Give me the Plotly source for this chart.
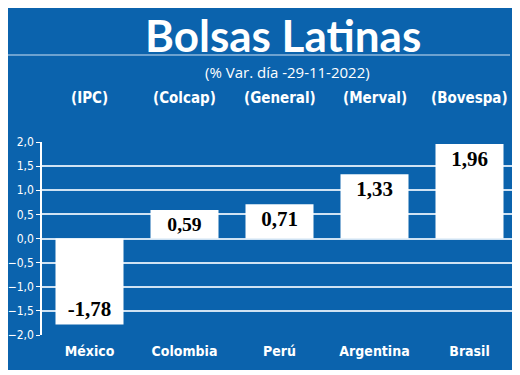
import plotly.graph_objects as go

countries = ["México", "Colombia", "Perú", "Argentina", "Brasil"]
indices = ["(IPC)", "(Colcap)", "(General)", "(Merval)", "(Bovespa)"]
values = [-1.78, 0.59, 0.71, 1.33, 1.96]
value_labels = ["-1,78", "0,59", "0,71", "1,33", "1,96"]
y_ticks = [2.0, 1.5, 1.0, 0.5, 0.0, -0.5, -1.0, -1.5, -2.0]

BLUE = "#0b63ad"
NARROW = "DejaVu Sans Condensed, Liberation Sans Narrow, sans-serif"

OFF = 8  # page body margin
FW, FH = 520 - OFF, 375 - OFF
# plot area in page pixels: x 42..513, y 142..335
L, R, T, B = 42, 513, 142, 335
W, H = R - L, B - T
def px(x): return (x - L) / W
def py(y): return (B - y) / H

fig = go.Figure()
fig.add_trace(go.Bar(
    x=countries, y=values,
    marker=dict(color="white", line=dict(width=0)),
    width=0.716,
    text=value_labels, textposition="inside", insidetextanchor="end",
    textfont=dict(family="Liberation Serif, DejaVu Serif, serif", size=21, color="black", weight="bold"),
    textangle=0, cliponaxis=False,
))

shapes = [
    dict(type="rect", xref="paper", yref="paper", x0=px(6), x1=px(513), y0=py(370), y1=py(5),
         fillcolor=BLUE, line=dict(width=0), layer="below"),
    dict(type="line", xref="paper", yref="paper", x0=px(6), x1=px(510), y0=py(55), y1=py(55),
         line=dict(color="#cfe2f3", width=1.2), layer="below"),
]

annotations = [
    dict(text="<b>Bolsas Latinas</b>", xref="paper", yref="paper", x=px(283), y=py(35),
         showarrow=False, font=dict(family="Lato, Open Sans, sans-serif", size=44, color="white"),
         xanchor="center", yanchor="middle"),
    dict(text="(% Var. día -29-11-2022)", xref="paper", yref="paper", x=px(287), y=py(72),
         showarrow=False, font=dict(family="Open Sans, sans-serif", size=15, color="white"),
         xanchor="center", yanchor="middle"),
]
for c, idx in zip(countries, indices):
    annotations.append(dict(text=idx, xref="x", yref="paper", x=c, y=py(98), showarrow=False,
                            font=dict(family=NARROW, size=15, color="white", weight="bold"),
                            xanchor="center", yanchor="middle"))

fig.update_layout(
    width=FW, height=FH,
    margin=dict(l=L - OFF, r=FW - (R - OFF), t=T - OFF, b=FH - (B - OFF)),
    paper_bgcolor="white", plot_bgcolor="rgba(0,0,0,0)",
    separators=",.",
    showlegend=False,
    shapes=shapes, annotations=annotations,
    bargap=0.284,
    xaxis=dict(range=[-0.5, -0.5 + W / 95], showgrid=False, zeroline=False, showline=False,
               automargin=False,
               ticks="", tickfont=dict(family=NARROW, size=14, color="white", weight="bold"),
               ticklabelstandoff=6),
    yaxis=dict(range=[-2, 2], tickvals=y_ticks, tickformat=".1f", automargin=False,
               showgrid=True, gridcolor="#cfe2f3", gridwidth=1.5,
               zeroline=False, showline=True, linecolor="white", linewidth=1.5,
               ticks="outside", ticklen=4, tickcolor="white", tickwidth=1,
               tickfont=dict(family=NARROW, size=12, color="white")),
)

fig.write_html("out.html")
